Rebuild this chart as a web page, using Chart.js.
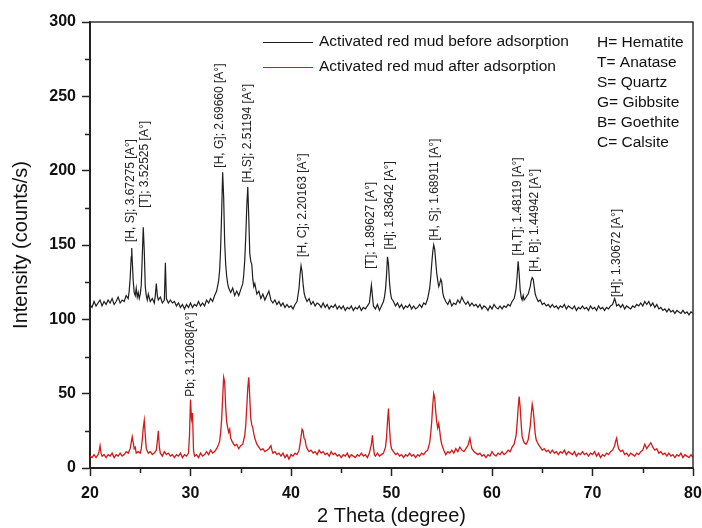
<!DOCTYPE html>
<html>
<head>
<meta charset="utf-8">
<script src="https://cdn.jsdelivr.net/npm/chart.js@4"></script>
<style>
  html, body { margin: 0; padding: 0; background: #fff; }
  #wrap { width: 702px; height: 528px; }
</style>
</head>
<body>
<div id="wrap"><canvas id="xrdChart" width="702" height="528"></canvas></div>
<script>
// 2 theta / intensity pairs
const beforeAdsorption = [
  [20.0,110],[20.2,108],[20.4,112],[20.6,109],[20.8,111],[21.0,113],[21.2,109],[21.4,112],[21.6,110],[21.8,113],
  [22.0,111],[22.2,114],[22.4,110],[22.6,112],[22.8,115],[23.0,111],[23.2,113],[23.4,112],[23.6,116],[23.8,114],
  [23.9,119],[24.0,128],[24.1,142],[24.15,148],[24.2,140],[24.3,126],[24.4,118],[24.5,116],[24.6,121],[24.7,115],
  [24.8,118],[24.9,114],[25.0,117],[25.1,123],[25.2,142],[25.3,162],[25.4,146],[25.5,122],[25.6,116],[25.7,113],
  [25.8,117],[26.0,112],[26.2,114],[26.4,111],[26.5,116],[26.6,124],[26.7,116],[26.8,113],[27.0,115],[27.2,111],
  [27.4,113],[27.5,138],[27.6,114],[27.8,111],[28.0,113],[28.2,111],[28.4,112],[28.6,109],[28.8,111],[29.0,108],
  [29.2,110],[29.4,107],[29.6,110],[29.8,108],[30.0,111],[30.2,108],[30.4,110],[30.6,109],[30.8,112],[31.0,109],
  [31.2,111],[31.4,109],[31.6,113],[31.8,111],[32.0,114],[32.2,112],[32.4,116],[32.6,119],[32.8,126],[32.9,133],
  [33.0,148],[33.1,172],[33.2,199],[33.3,182],[33.4,152],[33.5,137],[33.6,129],[33.7,124],[33.8,121],[34.0,118],
  [34.2,121],[34.4,116],[34.6,119],[34.8,116],[35.0,120],[35.2,124],[35.3,130],[35.4,140],[35.5,156],[35.6,176],
  [35.7,189],[35.8,168],[35.9,144],[36.0,139],[36.1,137],[36.2,127],[36.3,122],[36.4,124],[36.6,117],[36.8,119],
  [37.0,114],[37.2,117],[37.4,113],[37.6,116],[37.8,119],[38.0,113],[38.2,111],[38.4,113],[38.6,110],[38.8,112],
  [39.0,109],[39.2,111],[39.4,108],[39.6,110],[39.8,108],[40.0,109],[40.2,107],[40.4,110],[40.6,112],[40.8,121],
  [40.9,130],[41.0,136],[41.1,132],[41.2,124],[41.3,118],[41.4,115],[41.6,112],[41.8,114],[42.0,110],[42.2,112],
  [42.4,109],[42.6,111],[42.8,110],[43.0,108],[43.2,111],[43.4,108],[43.6,110],[43.8,107],[44.0,109],[44.2,108],
  [44.4,110],[44.6,107],[44.8,109],[45.0,107],[45.2,109],[45.4,106],[45.6,108],[45.8,107],[46.0,109],[46.2,106],
  [46.4,108],[46.6,107],[46.8,109],[47.0,106],[47.2,108],[47.4,107],[47.6,109],[47.8,111],[47.9,117],[48.0,123],
  [48.1,116],[48.2,109],[48.4,107],[48.6,110],[48.8,106],[49.0,109],[49.2,112],[49.3,115],[49.4,120],[49.5,129],
  [49.6,142],[49.7,137],[49.8,125],[49.9,118],[50.0,114],[50.2,112],[50.4,109],[50.6,111],[50.8,108],[51.0,110],
  [51.2,107],[51.4,109],[51.6,108],[51.8,110],[52.0,107],[52.2,109],[52.4,107],[52.6,108],[52.8,110],[53.0,108],
  [53.2,111],[53.4,110],[53.6,114],[53.8,121],[53.9,128],[54.0,137],[54.1,145],[54.2,150],[54.3,147],[54.4,139],
  [54.5,131],[54.6,126],[54.7,122],[54.8,124],[54.9,127],[55.0,125],[55.1,118],[55.2,115],[55.4,112],[55.6,110],
  [55.8,113],[56.0,109],[56.2,111],[56.4,110],[56.6,113],[56.8,111],[57.0,115],[57.2,112],[57.4,110],[57.6,112],
  [57.8,109],[58.0,111],[58.2,109],[58.4,110],[58.6,108],[58.8,110],[59.0,107],[59.2,109],[59.4,108],[59.6,106],
  [59.8,109],[60.0,107],[60.2,110],[60.4,108],[60.6,107],[60.8,109],[61.0,107],[61.2,109],[61.4,108],[61.6,110],
  [61.8,109],[62.0,112],[62.2,114],[62.3,117],[62.4,121],[62.5,129],[62.6,139],[62.7,131],[62.8,120],[62.9,115],
  [63.0,113],[63.1,116],[63.2,113],[63.4,115],[63.6,117],[63.8,122],[63.9,126],[64.0,128],[64.1,127],[64.2,122],
  [64.3,117],[64.4,115],[64.6,112],[64.8,113],[65.0,110],[65.2,111],[65.4,109],[65.6,110],[65.8,108],[66.0,110],
  [66.2,108],[66.4,109],[66.6,107],[66.8,109],[67.0,108],[67.2,110],[67.4,107],[67.6,109],[67.8,108],[68.0,107],
  [68.2,109],[68.4,106],[68.6,108],[68.8,107],[69.0,109],[69.2,107],[69.4,108],[69.6,106],[69.8,109],[70.0,107],
  [70.2,108],[70.4,106],[70.6,109],[70.8,107],[71.0,108],[71.2,106],[71.4,108],[71.6,107],[71.8,109],[72.0,110],
  [72.1,112],[72.2,114],[72.3,112],[72.4,109],[72.6,110],[72.8,108],[73.0,110],[73.2,107],[73.4,109],[73.6,108],
  [73.8,107],[74.0,109],[74.2,108],[74.4,110],[74.6,109],[74.8,111],[75.0,109],[75.2,112],[75.4,110],[75.6,112],
  [75.8,109],[76.0,111],[76.2,108],[76.4,110],[76.6,107],[76.8,108],[77.0,106],[77.2,107],[77.4,105],[77.6,107],
  [77.8,105],[78.0,106],[78.2,104],[78.4,106],[78.6,105],[78.8,104],[79.0,106],[79.2,104],[79.4,105],[79.6,103],
  [79.8,105],[80.0,104]
];

const afterAdsorption = [
  [20.0,8],[20.2,7],[20.4,9],[20.6,7],[20.8,9],[20.9,11],[21.0,15],[21.1,10],[21.2,8],[21.4,9],
  [21.6,7],[21.8,9],[22.0,8],[22.2,10],[22.4,7],[22.6,9],[22.8,8],[23.0,10],[23.2,8],[23.4,9],
  [23.6,11],[23.8,10],[24.0,13],[24.1,17],[24.2,21],[24.3,17],[24.4,13],[24.5,14],[24.6,10],[24.8,11],
  [25.0,10],[25.1,13],[25.2,19],[25.3,27],[25.4,32],[25.5,22],[25.6,13],[25.8,10],[26.0,11],[26.2,9],
  [26.4,10],[26.6,12],[26.7,18],[26.8,25],[26.9,14],[27.0,10],[27.2,8],[27.4,11],[27.6,9],[27.8,10],
  [28.0,8],[28.2,9],[28.4,7],[28.6,9],[28.8,8],[29.0,10],[29.2,7],[29.4,9],[29.6,8],[29.8,10],
  [29.9,22],[30.0,46],[30.1,33],[30.2,37],[30.3,12],[30.4,8],[30.6,9],[30.8,7],[31.0,10],[31.2,8],
  [31.4,9],[31.6,11],[31.8,9],[32.0,12],[32.2,10],[32.4,11],[32.6,13],[32.8,16],[32.9,18],[33.0,24],
  [33.1,33],[33.2,47],[33.3,61],[33.4,58],[33.5,41],[33.6,31],[33.7,27],[33.8,24],[33.9,26],[34.0,20],
  [34.2,17],[34.4,15],[34.6,16],[34.8,13],[35.0,15],[35.2,16],[35.3,19],[35.4,22],[35.5,29],[35.6,41],
  [35.7,54],[35.8,61],[35.9,47],[36.0,33],[36.1,29],[36.2,27],[36.3,23],[36.4,20],[36.6,16],[36.8,14],
  [37.0,12],[37.2,13],[37.4,11],[37.6,12],[37.8,13],[38.0,15],[38.1,12],[38.2,10],[38.4,11],[38.6,9],
  [38.8,10],[39.0,8],[39.2,10],[39.4,7],[39.6,9],[39.8,6],[40.0,9],[40.2,8],[40.4,10],[40.6,9],
  [40.8,12],[40.9,16],[41.0,21],[41.1,26],[41.2,25],[41.3,20],[41.4,19],[41.5,15],[41.6,13],[41.8,11],
  [42.0,12],[42.2,10],[42.4,11],[42.6,9],[42.8,12],[43.0,10],[43.2,11],[43.4,9],[43.6,10],[43.8,8],
  [44.0,11],[44.2,9],[44.4,10],[44.6,8],[44.8,9],[45.0,7],[45.2,9],[45.4,8],[45.6,10],[45.8,7],
  [46.0,9],[46.2,8],[46.4,7],[46.6,9],[46.8,8],[47.0,10],[47.2,8],[47.4,9],[47.6,7],[47.8,10],
  [47.9,13],[48.0,16],[48.1,22],[48.2,14],[48.3,9],[48.4,8],[48.6,10],[48.8,8],[49.0,9],[49.2,10],
  [49.4,14],[49.5,20],[49.6,31],[49.7,40],[49.8,27],[49.9,17],[50.0,13],[50.2,11],[50.4,9],[50.6,10],
  [50.8,8],[51.0,9],[51.2,7],[51.4,9],[51.6,8],[51.8,10],[52.0,8],[52.2,9],[52.4,7],[52.6,9],
  [52.8,8],[53.0,10],[53.2,9],[53.4,11],[53.6,12],[53.8,17],[53.9,23],[54.0,31],[54.1,42],[54.2,50],
  [54.3,47],[54.4,38],[54.5,31],[54.6,27],[54.7,30],[54.8,25],[54.9,19],[55.0,16],[55.2,12],[55.4,9],
  [55.6,11],[55.8,10],[56.0,12],[56.2,10],[56.4,13],[56.6,11],[56.8,14],[57.0,12],[57.2,11],[57.4,13],
  [57.6,15],[57.8,20],[57.9,16],[58.0,13],[58.2,11],[58.4,10],[58.6,9],[58.8,10],[59.0,8],[59.2,9],
  [59.4,7],[59.6,9],[59.8,8],[60.0,11],[60.2,9],[60.4,8],[60.6,10],[60.8,9],[61.0,11],[61.2,9],
  [61.4,10],[61.6,12],[61.8,11],[62.0,14],[62.2,16],[62.4,22],[62.5,30],[62.6,40],[62.7,48],[62.8,41],
  [62.9,30],[63.0,21],[63.1,19],[63.2,17],[63.4,16],[63.6,19],[63.8,28],[63.9,36],[64.0,43],[64.1,39],
  [64.2,31],[64.3,23],[64.4,19],[64.6,16],[64.8,14],[65.0,12],[65.2,13],[65.4,11],[65.6,12],[65.8,10],
  [66.0,12],[66.2,10],[66.4,11],[66.6,9],[66.8,11],[67.0,10],[67.2,12],[67.4,9],[67.6,11],[67.8,10],
  [68.0,9],[68.2,11],[68.4,8],[68.6,10],[68.8,9],[69.0,11],[69.2,9],[69.4,10],[69.6,8],[69.8,10],
  [70.0,9],[70.2,11],[70.4,8],[70.6,10],[70.8,7],[71.0,9],[71.2,8],[71.4,10],[71.6,9],[71.8,11],
  [72.0,12],[72.2,15],[72.3,18],[72.4,20],[72.5,16],[72.6,13],[72.8,11],[73.0,12],[73.2,9],[73.4,10],
  [73.6,8],[73.8,10],[74.0,9],[74.2,8],[74.4,10],[74.6,9],[74.8,11],[75.0,12],[75.2,16],[75.4,13],
  [75.6,15],[75.8,17],[76.0,14],[76.2,12],[76.4,13],[76.6,10],[76.8,11],[77.0,9],[77.2,10],[77.4,8],
  [77.6,10],[77.8,8],[78.0,9],[78.2,7],[78.4,9],[78.6,8],[78.8,10],[79.0,7],[79.2,9],[79.4,8],
  [79.6,7],[79.8,9],[80.0,7]
];

// peak labels: text, 2theta, intensity where the rotated text starts
const peakLabels = [
  ['[H, S]; 3.67275 [A°]', 24.0, 152],
  ['[T]; 3.52525 [A°]', 25.4, 175],
  ['[H, G]; 2.69660 [A°]', 32.95, 202],
  ['[H,S]; 2.51194 [A°]', 35.72, 192],
  ['[H, C]; 2.20163 [A°]', 41.2, 142],
  ['[T]; 1.89627 [A°]', 47.96, 134],
  ['[H]; 1.83642 [A°]', 49.85, 147],
  ['[H, S]; 1.68911 [A°]', 54.33, 153],
  ['[H,T]; 1.48119 [A°]', 62.6, 143],
  ['[H, B]; 1.44942 [A°]', 64.28, 132],
  ['[H]; 1.30672 [A°]', 72.44, 115],
  ['Pb; 3.12068[A°]', 30.05, 48]
];

const seriesNames = ['Activated red mud before adsorption', 'Activated red mud after adsorption'];
const phaseKey = ['H= Hematite', 'T= Anatase', 'S= Quartz', 'G= Gibbsite', 'B= Goethite', 'C= Calsite'];

const FONT = '"Liberation Sans", Arial, Helvetica, sans-serif';
const lineColors = ['#1e1e1e', '#d21a1a'];

const extras = {
  id: 'extras',
  afterDraw(chart) {
    const ctx = chart.ctx;
    const area = chart.chartArea;
    const xs = chart.scales.x;
    const ys = chart.scales.y;
    ctx.save();

    // top and right frame
    ctx.strokeStyle = '#333';
    ctx.lineWidth = 1.5;
    ctx.beginPath();
    ctx.moveTo(area.left, area.top);
    ctx.lineTo(area.right, area.top);
    ctx.lineTo(area.right, area.bottom);
    ctx.stroke();

    // minor ticks
    ctx.strokeStyle = '#222';
    ctx.lineWidth = 1.5;
    ctx.beginPath();
    for (let v = 25; v < 300; v += 50) {
      const py = Math.round(ys.getPixelForValue(v)) + 0.5;
      ctx.moveTo(area.left - 5, py);
      ctx.lineTo(area.left, py);
    }
    for (let v = 25; v < 80; v += 10) {
      const px = Math.round(xs.getPixelForValue(v)) + 0.5;
      ctx.moveTo(px, area.bottom);
      ctx.lineTo(px, area.bottom + 5);
    }
    ctx.stroke();

    // peak labels
    ctx.fillStyle = '#222';
    ctx.font = '12px ' + FONT;
    ctx.textAlign = 'left';
    ctx.textBaseline = 'middle';
    peakLabels.forEach(([text, tt, inten]) => {
      ctx.save();
      ctx.translate(xs.getPixelForValue(tt), ys.getPixelForValue(inten));
      ctx.rotate(-Math.PI / 2);
      ctx.fillText(text, 0, 0);
      ctx.restore();
    });

    // series legend
    ctx.font = '15.5px ' + FONT;
    ctx.fillStyle = '#111';
    seriesNames.forEach((name, i) => {
      const y = area.top + 20 + i * 25;
      ctx.strokeStyle = lineColors[i];
      ctx.lineWidth = 1;
      ctx.beginPath();
      ctx.moveTo(area.left + 173, y + 0.5);
      ctx.lineTo(area.left + 223, y + 0.5);
      ctx.stroke();
      ctx.fillText(name, area.left + 229, y);
    });

    // phase key
    phaseKey.forEach((line, i) => {
      ctx.fillText(line, area.left + 507, area.top + 21 + i * 20);
    });

    ctx.restore();
  }
};

const axisStyle = {
  grid: { display: true, drawOnChartArea: false, drawTicks: true, tickLength: 8, tickWidth: 1.5, tickColor: '#222' },
  border: { display: true, color: '#222', width: 2 },
  ticks: { color: '#111', font: { family: FONT, size: 16, weight: 'bold' } }
};

new Chart(document.getElementById('xrdChart'), {
  type: 'line',
  data: {
    datasets: [
      {
        label: seriesNames[0],
        data: beforeAdsorption.map(([x, y]) => ({ x, y })),
        borderColor: lineColors[0],
        borderWidth: 1.2,
        pointRadius: 0,
        tension: 0
      },
      {
        label: seriesNames[1],
        data: afterAdsorption.map(([x, y]) => ({ x, y })),
        borderColor: lineColors[1],
        borderWidth: 1.3,
        pointRadius: 0,
        tension: 0
      }
    ]
  },
  options: {
    responsive: false,
    animation: false,
    events: [],
    layout: { padding: { top: 22, right: 9, left: 0, bottom: 0 } },
    plugins: {
      legend: { display: false },
      tooltip: { enabled: false }
    },
    scales: {
      x: {
        type: 'linear',
        min: 20,
        max: 80,
        grid: axisStyle.grid,
        border: axisStyle.border,
        ticks: Object.assign({}, axisStyle.ticks, { stepSize: 10, padding: 8, maxRotation: 0 }),
        title: { display: true, text: '2 Theta (degree)', color: '#111', font: { family: FONT, size: 20 }, padding: 0 },
        afterFit(scale) {
          scale.height = 60;
          scale.paddingLeft = 0;
          scale.paddingRight = 0;
        }
      },
      y: {
        min: 0,
        max: 300,
        grid: axisStyle.grid,
        border: axisStyle.border,
        ticks: Object.assign({}, axisStyle.ticks, { stepSize: 50, padding: 6 }),
        title: { display: true, text: 'Intensity (counts/s)', color: '#111', font: { family: FONT, size: 20 }, padding: { top: 9 } },
        afterFit(scale) { scale.width = 90; }
      }
    }
  },
  plugins: [extras]
});
</script>
</body>
</html>
